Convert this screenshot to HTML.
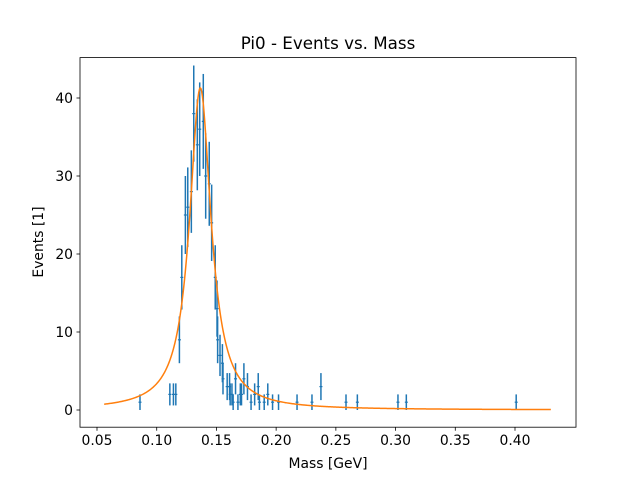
<!DOCTYPE html>
<html><head><meta charset="utf-8"><style>
body{margin:0;background:#fff;}
svg{display:block;font-family:"DejaVu Sans","Liberation Sans",sans-serif;}
</style></head><body>
<svg id="chart" width="640" height="480" xmlns="http://www.w3.org/2000/svg">
<rect width="640" height="480" fill="#fff"/>
<text x="328" y="49" font-size="16.7" text-anchor="middle">Pi0 - Events vs. Mass</text>
<g id="plot"></g>
<rect x="80" y="57.6" width="496" height="369.6" fill="none" stroke="#000" stroke-width="0.8"/>
<text x="328" y="468" font-size="13.9" text-anchor="middle">Mass [GeV]</text>
<text x="0" y="0" font-size="13.9" text-anchor="middle" transform="translate(43,242) rotate(-90)">Events [1]</text>
</svg>
<script>
const massValues=[0.086,0.111,0.114,0.116,0.119,0.121,0.124,0.126,0.129,0.131,0.134,0.136,0.139,0.141,0.144,0.146,0.149,0.1505,0.151,0.153,0.155,0.1555,0.159,0.161,0.1615,0.163,0.164,0.166,0.168,0.170,0.171,0.173,0.176,0.179,0.182,0.185,0.186,0.190,0.193,0.197,0.202,0.2175,0.230,0.2375,0.2585,0.268,0.302,0.309,0.401];
const eventCounts=[1,2,2,2,9,17,25,26,28,38,34,36,37,30,29,24,17,13,9,7,6,4,3,3,2,2,1,4,1,2,2,4,3,1,2,3,1,1,2,1,1,1,1,3,1,1,1,1,1];
const fitPeak=[41.3];
const fitMean=[0.1365];
const fitWidth=[0.0109];
const fitRange=[0.056,0.43];
const xTicks=[0.05,0.10,0.15,0.20,0.25,0.30,0.35,0.40];
const xTickLabels=["0.05","0.10","0.15","0.20","0.25","0.30","0.35","0.40"];
const yTicks=[0,10,20,30,40];
const yTickLabels=["0","10","20","30","40"];

const NS="http://www.w3.org/2000/svg";
const g=document.getElementById('plot');
function X(v){return 97+(v-0.05)*(418/0.35);}
function Y(v){return 410-v*7.8;}
function mk(t,a){const e=document.createElementNS(NS,t);for(const k in a)e.setAttribute(k,a[k]);g.appendChild(e);return e;}
xTicks.forEach((t,i)=>{
  const l=mk('line',{x1:X(t),x2:X(t),y1:427.2,y2:430.7,stroke:'#000','stroke-width':0.8});
  
  
  const s=mk('text',{x:X(t),y:445,'font-size':13.9,'text-anchor':'middle'});
  s.textContent=xTickLabels[i];
  
  
});
yTicks.forEach((t,i)=>{
  const l=mk('line',{x1:76.5,x2:80,y1:Y(t),y2:Y(t),stroke:'#000','stroke-width':0.8});
  
  
  const s=mk('text',{x:73,y:Y(t)+5,'font-size':13.9,'text-anchor':'end'});
  s.textContent=yTickLabels[i];
  
  
});
massValues.forEach((m,i)=>{
  const n=eventCounts[i],e=Math.sqrt(n);
  const b=mk('line',{x1:X(m),x2:X(m),y1:Y(n-e),y2:Y(n+e),stroke:'#1f77b4','stroke-width':1.5});
  
  
  const c=mk('line',{x1:X(m)-1.5,x2:X(m)+1.5,y1:Y(n),y2:Y(n),stroke:'#1f77b4','stroke-width':1.2});
  
  
});
let d='';
for(let k=0;k<=600;k++){
  const x=fitRange[0]+(fitRange[1]-fitRange[0])*k/600;
  const y=fitPeak[0]/(1+Math.pow((x-fitMean[0])/fitWidth[0],2));
  d+=(k?'L':'M')+X(x).toFixed(2)+','+Y(y).toFixed(2);
}
const p=mk('path',{d:d,fill:'none',stroke:'#ff7f0e','stroke-width':1.5});


</script>
</body></html>
